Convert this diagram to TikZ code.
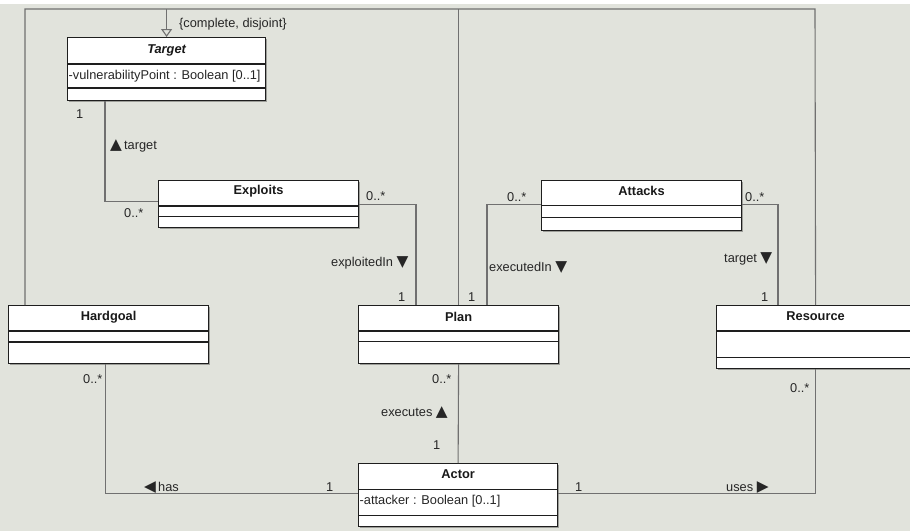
\documentclass[tikz,border=0pt]{standalone}
\usepackage{fontspec}
\setmainfont{Liberation Sans}
\newfontfamily\symfont[Scale=1.2]{DejaVu Sans}
\usetikzlibrary{arrows.meta,shadows,calc}
\definecolor{bg}{HTML}{E1E3DC}
\definecolor{conncol}{HTML}{707070}
\definecolor{boxline}{HTML}{1E1E1E}
\newcommand{\umldiv}[2]{\draw[divider] ([yshift=-#2pt]#1.north west) -- ([yshift=-#2pt]#1.north east);}
\begin{document}
\begin{tikzpicture}[x=1pt,y=-1pt,
  classbox/.style={draw=boxline, line width=1.2pt, fill=white, anchor=north west, inner sep=0pt,
    drop shadow={shadow xshift=1.3pt, shadow yshift=-1.3pt, opacity=0.3, fill=black}},
  divider/.style={draw=boxline, line width=1.2pt},
  conn/.style={draw=conncol, line width=1.1pt},
  txt/.style={font=\fontsize{12.8}{14}\selectfont, inner sep=0pt, text=black!85},
  ttl/.style={font=\fontsize{12.8}{14}\selectfont\bfseries, inner sep=0pt, text=black!90},
]
\useasboundingbox (0,0) rectangle (910,531);
\fill[bg] (0,0) rectangle (910,531);
\fill[white] (0,0) rectangle (910,4);

% class boxes
\node[classbox, minimum width=198pt, minimum height=63pt] (target) at (67,37) {};
\node[classbox, minimum width=200pt, minimum height=47pt] (exploits) at (158,180) {};
\node[classbox, minimum width=200pt, minimum height=50pt] (attacks) at (541,180) {};
\node[classbox, minimum width=200pt, minimum height=58pt] (hardgoal) at (8,305) {};
\node[classbox, minimum width=200pt, minimum height=58pt] (plan) at (358,305) {};
\node[classbox, minimum width=198pt, minimum height=63pt] (resource) at (716,305) {};
\node[classbox, minimum width=199pt, minimum height=63pt] (actor) at (358,463) {};

\umldiv{target}{27}\umldiv{target}{51}
\umldiv{exploits}{26}\umldiv{exploits}{36.7}
\umldiv{attacks}{25.7}\umldiv{attacks}{37.3}
\umldiv{hardgoal}{26}\umldiv{hardgoal}{37}
\umldiv{plan}{26}\umldiv{plan}{36.7}
\umldiv{resource}{26}\umldiv{resource}{52.7}
\umldiv{actor}{26.3}\umldiv{actor}{52.3}

% titles and attributes
\node[ttl, font=\fontsize{12.8}{14}\selectfont\bfseries\itshape] (targetT) at ($(target.north)+(0,13)$) {Target};
\node[txt, anchor=west] (targetA) at ($(target.north west)+(1.5,39)$) {-vulnerabilityPoint : Boolean [0..1]};
\node[ttl] (exploitsT) at ($(exploits.north)+(0,11)$) {Exploits};
\node[ttl] (attacksT) at ($(attacks.north)+(0,11)$) {Attacks};
\node[ttl] (hardgoalT) at ($(hardgoal.north)+(0,12)$) {Hardgoal};
\node[ttl] (planT) at ($(plan.north)+(0,12)$) {Plan};
\node[ttl] (resourceT) at ($(resource.north)+(0,11)$) {Resource};
\node[ttl] (actorT) at ($(actor.north)+(0,11)$) {Actor};
\node[txt, anchor=west] (actorA) at ($(actor.north west)+(1.5,38)$) {-attacker : Boolean [0..1]};

% generalization frame
\coordinate (fr) at (815,9);
\draw[conn] ([xshift=17pt]hardgoal.north west) |- (fr) -- (resource.north);
\draw[conn] (plan.north) -- (plan.north |- fr);
\draw[conn, -{Triangle[open, length=8pt, width=11pt]}] (target.north |- fr) -- (target.north);

% associations
\draw[conn] ([xshift=38pt]target.south west) |- ([yshift=2.5pt]exploits.west);
\draw[conn] (exploits.east) -| ([xshift=58pt]plan.north west);
\draw[conn] ([yshift=1pt]attacks.west) -| ([xshift=129pt]plan.north west);
\draw[conn] ([yshift=1pt]attacks.east) -| ([xshift=62pt]resource.north west);
\draw[conn] ([xshift=-3pt]hardgoal.south) |- ([yshift=1.5pt]actor.west);
\draw[conn] (plan.south) -- (actor.north);
\draw[conn] (resource.south) |- ([yshift=1.5pt]actor.east);

% labels
\node[txt, anchor=west] (lgen) at (179,24) {\{complete, disjoint\}};
\node[txt, anchor=west] (l1) at (76,114) {1};
\node[txt, anchor=west] (l2) at (110,146) {{\symfont▲}\,target};
\node[txt, anchor=west] (l3) at (124,213) {0..*};
\node[txt, anchor=west] (l4) at (366,196) {0..*};
\node[txt, anchor=west] (l5) at (331,263) {exploitedIn {\symfont▼}};
\node[txt, anchor=west] (l6) at (398,297) {1};
\node[txt, anchor=west] (l7) at (468,297) {1};
\node[txt, anchor=west] (l8) at (507,197) {0..*};
\node[txt, anchor=west] (l9) at (745,197) {0..*};
\node[txt, anchor=west] (l10) at (489,268) {executedIn {\symfont▼}};
\node[txt, anchor=west] (l11) at (724,259) {target {\symfont▼}};
\node[txt, anchor=west] (l12) at (761,297) {1};
\node[txt, anchor=west] (l13) at (83,379) {0..*};
\node[txt, anchor=west] (l14) at (432,379) {0..*};
\node[txt, anchor=west] (l15) at (381,413) {executes {\symfont▲}};
\node[txt, anchor=west] (l16) at (433,445) {1};
\node[txt, anchor=west] (l17) at (144,487) {{\symfont◀}\,has};
\node[txt, anchor=west] (l18) at (326,487) {1};
\node[txt, anchor=west] (l19) at (575,487) {1};
\node[txt, anchor=west] (l20) at (726,487) {uses {\symfont▶}};
\node[txt, anchor=west] (l21) at (790,388) {0..*};
\end{tikzpicture}
\end{document}
